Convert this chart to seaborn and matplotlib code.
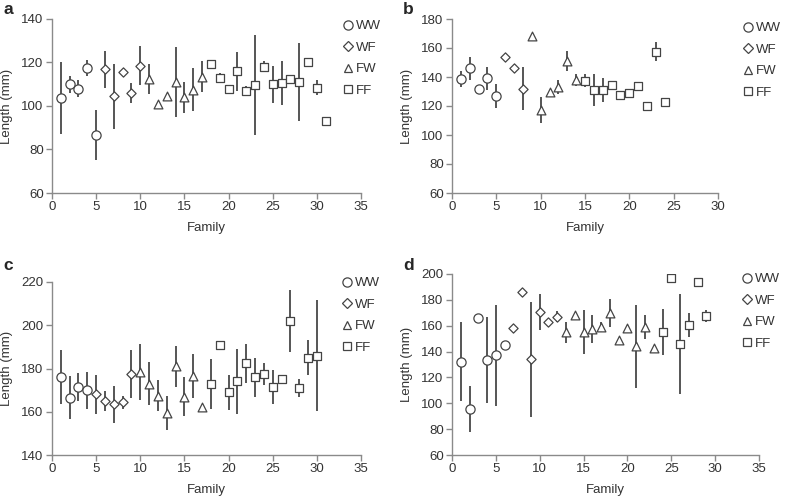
import numpy as np
import pandas as pd
import matplotlib.pyplot as plt
import seaborn as sns
from matplotlib.lines import Line2D

sns.set_style("white")
plt.rcParams['font.family'] = ['Liberation Sans', 'DejaVu Sans']

groups = ['WW', 'WF', 'FW', 'FF']
markers = {'WW': 'o', 'WF': 'D', 'FW': '^', 'FF': 's'}
msize = {'WW': 44, 'WF': 22, 'FW': 40, 'FF': 34}

# panel a
a_counts = [5, 5, 7, 14]
a_mean = [103.5, 110, 108, 117.5, 86.5,
          117, 104.5, 115.5, 106, 118.5,
          112.5, 101, 104.5, 111, 104, 107.5, 113.5,
          119.5, 113, 108, 116, 107, 109.5, 118, 110, 110.5, 112.5, 111, 120, 108.5, 93]
a_err = [16.5, 4, 4, 3.5, 11.5,
         8.5, 15, 0, 4.5, 9,
         7, 0, 0, 16, 7, 10, 7,
         1, 2, 0, 9, 2, 23, 2.5, 8.5, 10, 0, 18, 0, 3.5, 0]

# panel b
b_counts = [5, 3, 6, 10]
b_mean = [138.5, 146, 132, 139, 127,
          154, 146, 132,
          168, 117, 130, 133, 151, 138,
          137.5, 131, 131, 134.5, 127.5, 129, 134, 120, 157.5, 123]
b_err = [5.5, 8, 1.5, 8, 8.5,
         0, 0, 15,
         0, 9, 0, 5, 7, 4,
         4.5, 11, 8, 0, 3, 0, 0, 0, 6.5, 0]

# panel c
c_counts = [4, 5, 8, 13]
c_mean = [176, 166.5, 171.5, 170,
          168, 165, 163.5, 164.5, 177.5,
          178.5, 173, 167.5, 159.5, 181, 167, 176.5, 162,
          173, 191, 169, 174, 182.5, 176, 177.5, 171.5, 175, 202, 171, 185, 186]
c_err = [12.5, 10, 6.5, 8.5,
         9, 4.5, 8.5, 3, 11,
         13, 10, 7, 8, 9.5, 9, 10, 0,
         11.5, 0, 8, 15, 9, 9, 5, 8, 0, 14.5, 4, 8, 25.5]

# panel d
d_counts = [6, 6, 11, 6]
d_mean = [132, 95.5, 166, 133.5, 137, 145,
          158.5, 186, 134, 170.5, 163, 167,
          155, 168, 155.5, 157.5, 159, 170, 149, 158.5, 144, 159, 142.5,
          155, 197, 146, 160.5, 194, 167.5]
d_err = [30.5, 17.5, 0, 33, 39, 0,
         0, 0, 44.5, 14, 0, 4,
         8, 0, 17, 11, 4, 11, 0, 0, 32, 9, 0,
         18, 0, 38.5, 9.5, 0, 4.5]

# letter, data, y range, x max, axes box in pixels, legend anchor in pixels
panels = [
    ('a', a_counts, a_mean, a_err, (60, 140), 35, [52, 19, 361, 193], (343, 20)),
    ('b', b_counts, b_mean, b_err, (60, 180), 30, [452, 19, 718, 193], (743, 22)),
    ('c', c_counts, c_mean, c_err, (140, 220), 35, [52, 282, 361, 455], (342, 277)),
    ('d', d_counts, d_mean, d_err, (60, 200), 35, [452, 274, 759, 455], (742, 273)),
]

W, H = 789, 499
fig = plt.figure(figsize=(W / 100, H / 100), dpi=100)
gray = '#444444'
spine_c = '#8a8a8a'
txt_c = '#333333'

for letter, counts, mean, err, ylim, xmax, box, leg in panels:
    x0, y0, x1, y1 = box
    ax = fig.add_axes([x0 / W, 1 - y1 / H, (x1 - x0) / W, (y1 - y0) / H])
    cross = np.repeat(groups, counts)
    df = pd.DataFrame({'Family': np.arange(1, len(mean) + 1), 'Length': mean,
                       'Err': err, 'Cross': cross})
    e = df[df.Err > 0]
    ax.errorbar(e.Family, e.Length, yerr=e.Err, fmt='none', ecolor='#555555',
                elinewidth=1.4, capsize=0, zorder=1)
    for g in groups:
        sns.scatterplot(data=df[df.Cross == g], x='Family', y='Length', marker=markers[g],
                        s=msize[g], color='white', edgecolor=gray, linewidth=0.9,
                        ax=ax, legend=False, zorder=3)
    ax.set_xlim(0, xmax)
    ax.set_ylim(*ylim)
    ax.set_xticks(np.arange(0, xmax + 1, 5))
    ax.set_yticks(np.arange(ylim[0], ylim[1] + 1, 20))
    for s in ['top', 'right']:
        ax.spines[s].set_visible(False)
    for s in ['left', 'bottom']:
        ax.spines[s].set_color(spine_c)
        ax.spines[s].set_linewidth(1.0)
    ax.tick_params(bottom=True, left=True, direction='out', length=4, width=1,
                   color=spine_c, labelsize=9.5, labelcolor=txt_c, pad=2)
    ax.set_xlabel('Family', fontsize=9.5, color=txt_c)
    ax.set_ylabel('Length (mm)', fontsize=9.5, color=txt_c)
    ax.xaxis.set_label_coords(0.5, -29 / (y1 - y0))
    ax.yaxis.set_label_coords(-39 / (x1 - x0), 0.5)
    handles = [Line2D([], [], linestyle='none', marker=markers[g],
                      markersize=np.sqrt(msize[g]), markerfacecolor='white',
                      markeredgecolor=gray, markeredgewidth=0.9) for g in groups]
    ax.legend(handles, groups, loc='upper left', bbox_to_anchor=(leg[0] / W, 1 - leg[1] / H),
              bbox_transform=fig.transFigure, frameon=False, fontsize=9.5,
              handlelength=0.8, handletextpad=0.2, borderpad=0, borderaxespad=0,
              labelspacing=0.7, labelcolor=txt_c)
    top = 2 if letter in 'ab' else 258
    fig.text((x0 - 49) / W, 1 - top / H, letter, fontsize=12.5,
             fontweight='bold', va='top', ha='left')

fig.savefig('out.png', dpi=100)
